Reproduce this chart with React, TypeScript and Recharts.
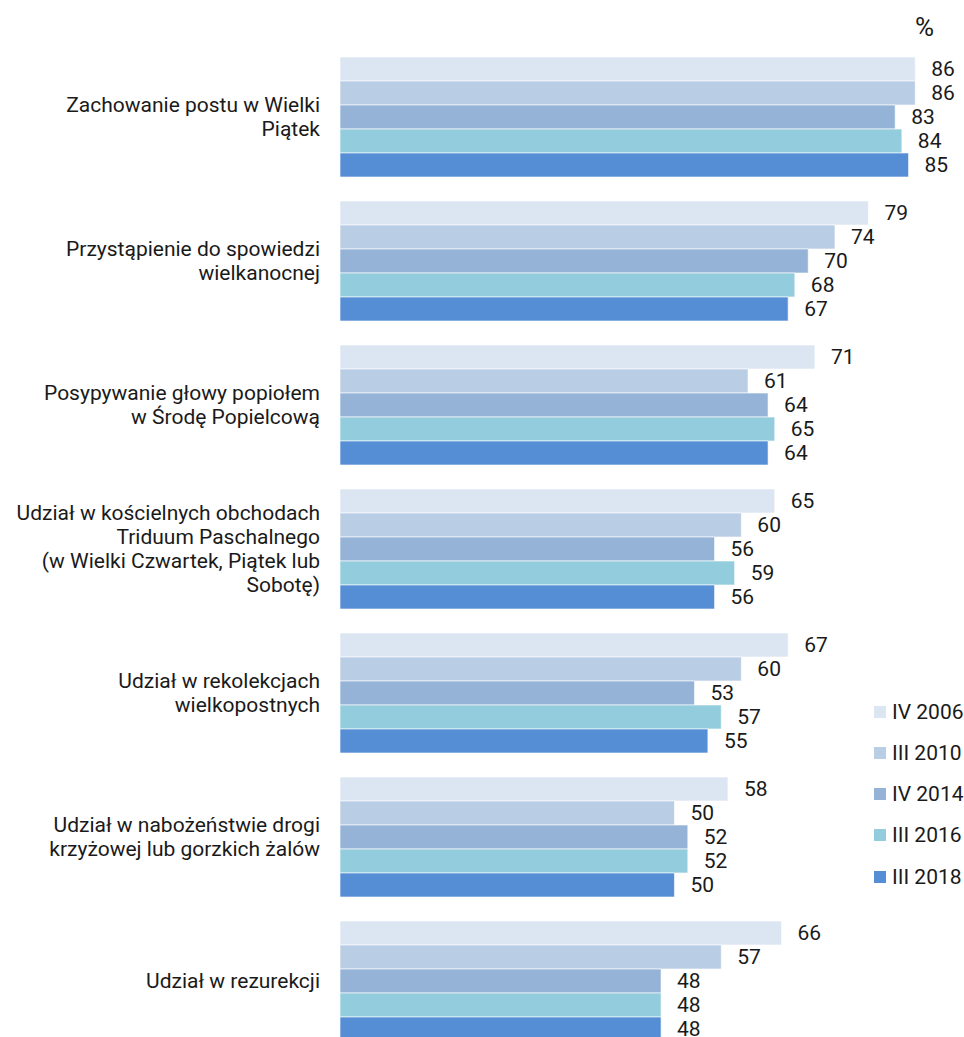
import { BarChart, Bar, XAxis, YAxis, LabelList } from 'recharts';

const categories = [
    'Zachowanie postu w Wielki Piątek',
    'Przystąpienie do spowiedzi wielkanocnej',
    'Posypywanie głowy popiołem w Środę Popielcową',
    'Udział w kościelnych obchodach Triduum Paschalnego (w Wielki Czwartek, Piątek lub Sobotę)',
    'Udział w rekolekcjach wielkopostnych',
    'Udział w nabożeństwie drogi krzyżowej lub gorzkich żalów',
    'Udział w rezurekcji',
];

const categoryLines = [
    ['Zachowanie postu w Wielki', 'Piątek'],
    ['Przystąpienie do spowiedzi', 'wielkanocnej'],
    ['Posypywanie głowy popiołem', 'w Środę Popielcową'],
    ['Udział w kościelnych obchodach', 'Triduum Paschalnego', '(w Wielki Czwartek, Piątek lub', 'Sobotę)'],
    ['Udział w rekolekcjach', 'wielkopostnych'],
    ['Udział w nabożeństwie drogi', 'krzyżowej lub gorzkich żalów'],
    ['Udział w rezurekcji'],
];

const seriesNames = ['IV 2006', 'III 2010', 'IV 2014', 'III 2016', 'III 2018'];
const seriesColors = ['#dce6f2', '#b9cde5', '#95b3d7', '#93cddd', '#558ed5'];

const v2006 = [86, 79, 71, 65, 67, 58, 66];
const v2010 = [86, 74, 61, 60, 60, 50, 57];
const v2014 = [83, 70, 64, 56, 53, 52, 48];
const v2016 = [84, 68, 65, 59, 57, 52, 48];
const v2018 = [85, 67, 64, 56, 55, 50, 48];

const seriesValues = [v2006, v2010, v2014, v2016, v2018];

const data = categories.map((name, i) => {
    const row: Record<string, string | number> = { name };
    seriesNames.forEach((s, j) => { row[s] = seriesValues[j][i]; });
    return row;
});

const FONT = 'Roboto, "Noto Sans", sans-serif';

const CategoryTick = (props: any) => {
    const { x, y, payload } = props;
    const idx = categories.indexOf(payload.value);
    const lines = categoryLines[idx] || [payload.value];
    const lh = 24;
    const start = -((lines.length - 1) * lh) / 2;
    return (
        <text x={x} y={y} textAnchor="end" fontSize={21} fill="#1a1a1a" fontFamily={FONT}>
            {lines.map((l, i) => (
                <tspan key={i} x={x} dy={i === 0 ? start + 7 : lh}>{l}</tspan>
            ))}
        </text>
    );
};

export default function App() {
    return (
        <div style={{ position: 'absolute', left: 0, top: 0, width: 964, height: 1037, overflow: 'hidden', background: '#fff', fontFamily: FONT }}>
            <BarChart
                width={964}
                height={1053}
                data={data}
                layout="vertical"
                margin={{ top: 45, right: 22, bottom: 0, left: 0 }}
                barCategoryGap={12}
                barGap={0}
            >
                <XAxis type="number" domain={[0, 90]} hide />
                <YAxis
                    type="category"
                    dataKey="name"
                    width={340}
                    axisLine={false}
                    tickLine={false}
                    tickSize={0}
                    tickMargin={20}
                    interval={0}
                    tick={<CategoryTick />}
                />
                {seriesNames.map((s, j) => (
                    <Bar key={s} dataKey={s} fill={seriesColors[j]} stroke="rgba(255,255,255,0.6)" strokeWidth={1} isAnimationActive={false}>
                        <LabelList dataKey={s} position="right" offset={16} fontSize={21} fill="#1a1a1a" fontFamily={FONT} />
                    </Bar>
                ))}
            </BarChart>
            <div style={{ position: 'absolute', left: 915, top: 12, fontSize: 26, lineHeight: '30px', color: '#1a1a1a' }}>%</div>
            <div style={{ position: 'absolute', left: 874, top: 691 }}>
                {seriesNames.map((s, j) => (
                    <div key={s} style={{ display: 'flex', alignItems: 'center', height: 41.25, fontSize: 21, color: '#1a1a1a' }}>
                        <span style={{ display: 'inline-block', width: 12, height: 12, background: seriesColors[j], marginRight: 6 }} />
                        <span>{s}</span>
                    </div>
                ))}
            </div>
        </div>
    );
}
